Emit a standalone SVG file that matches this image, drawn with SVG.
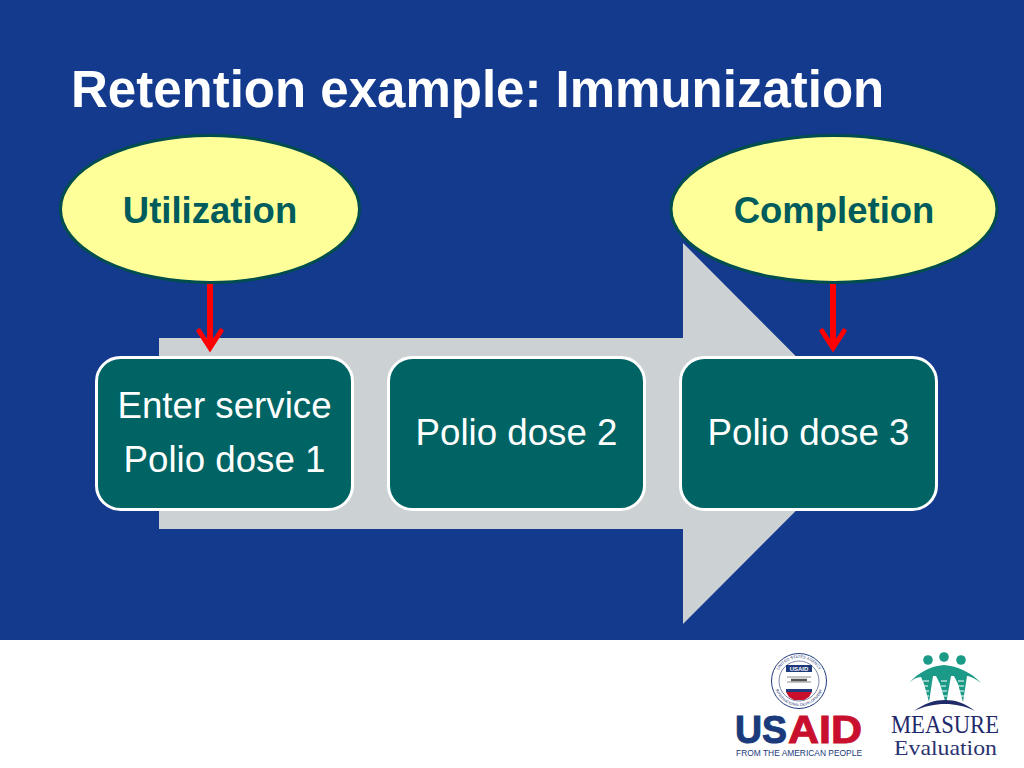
<svg xmlns="http://www.w3.org/2000/svg" width="1024" height="768" viewBox="0 0 1024 768">
<style>
.sans{font-family:"Liberation Sans",Arial,sans-serif}
.serif{font-family:"Liberation Serif","Times New Roman",serif}
.oval{fill:#ffff99;stroke:#004d4d;stroke-width:3}
.ovalt{font-size:36.500px;font-weight:bold;fill:#005c5c;text-anchor:middle}
.box{fill:#006464;stroke:#fff;stroke-width:3}
.boxt{font-size:36.700px;fill:#fff;text-anchor:middle}
.link{stroke:#f00;stroke-width:6;fill:none}
.head{stroke:#f00;stroke-width:5;fill:none;stroke-linecap:round}
.teal{fill:#1b9a87}
.navy{fill:#1f2a6b}
.rib{stroke:#fff;stroke-width:1.200;fill:none}
</style>
<defs>
<path id="seal-top" d="M776,681A23,23 0 0 1 822,681"/>
<path id="seal-bottom" d="M774,681A25,25 0 0 0 824,681"/>
</defs>
<rect id="background" width="1024" height="640" fill="#143a8e"/>
<rect id="footer" y="640" width="1024" height="128" fill="#fff"/>
<text id="title" class="sans" x="71" y="107" font-size="51" font-weight="bold" fill="#fff">Retention example: Immunization</text>
<polygon id="process-arrow" points="159,338 683,338 683,243 873,433.500 683,624 683,529 159,529" fill="#ccd2d4"/>
<g id="connectors">
<path class="link" d="M210,284V346"/>
<path class="head" d="M199,331L210,348L221,331"/>
<path class="link" d="M833,284V346"/>
<path class="head" d="M822,331L833,348L844,331"/>
</g>
<g id="utilization"><ellipse class="oval" cx="210" cy="209" rx="149.500" ry="73.500"/><text class="sans ovalt" x="210" y="223">Utilization</text></g>
<g id="completion"><ellipse class="oval" cx="834" cy="209" rx="163" ry="73.500"/><text class="sans ovalt" x="834" y="223">Completion</text></g>
<g id="dose1"><rect class="box" x="96.500" y="357.500" width="256" height="152" rx="24"/><text class="sans boxt" x="224.500" y="418">Enter service</text><text class="sans boxt" x="224.500" y="472">Polio dose 1</text></g>
<g id="dose2"><rect class="box" x="388.500" y="357.500" width="256" height="152" rx="24"/><text class="sans boxt" x="516.500" y="445">Polio dose 2</text></g>
<g id="dose3"><rect class="box" x="680.500" y="357.500" width="256" height="152" rx="24"/><text class="sans boxt" x="808.500" y="445">Polio dose 3</text></g>
<g id="usaid-logo">
<circle cx="799" cy="681" r="27.500" fill="#fff" stroke="#1f3a7a" stroke-width="1"/>
<circle cx="799" cy="681" r="20" fill="#fff" stroke="#5a6a96" stroke-width="0.800"/>
<text class="sans" font-size="4" fill="#1f3a7a" text-anchor="middle"><textPath href="#seal-top" startOffset="50%">UNITED STATES AGENCY</textPath></text>
<text class="sans" font-size="3.800" fill="#1f3a7a" text-anchor="middle"><textPath href="#seal-bottom" startOffset="50%">INTERNATIONAL DEVELOPMENT</textPath></text>
<rect x="786" y="665" width="26" height="7" fill="#1f3a7a"/>
<text class="sans" x="799" y="671" font-size="6" font-weight="bold" fill="#fff" text-anchor="middle">USAID</text>
<path d="M787,677H811M787,682H811" stroke="#888" stroke-width="1"/>
<path d="M791,680H807" stroke="#555" stroke-width="2.500"/>
<rect x="786" y="689" width="26" height="3" fill="#1f3a7a"/>
<path d="M786,692H812L809,697L804,700H794L789,697Z" fill="#c8102e"/>
<text class="sans" x="735" y="743" font-size="38" font-weight="bold" fill="#1a3a7c" stroke="#1a3a7c" stroke-width="1" textLength="52" lengthAdjust="spacingAndGlyphs">US</text>
<text class="sans" x="788" y="743" font-size="38" font-weight="bold" fill="#c8102e" stroke="#c8102e" stroke-width="1" textLength="74" lengthAdjust="spacingAndGlyphs">AID</text>
<text class="sans" x="736" y="756" font-size="9.500" fill="#1a3a7c" textLength="126" lengthAdjust="spacingAndGlyphs">FROM THE AMERICAN PEOPLE</text>
</g>
<g id="measure-logo">
<circle class="teal" cx="928" cy="660" r="4.800"/><circle class="teal" cx="944" cy="657" r="4.800"/><circle class="teal" cx="961" cy="660" r="4.800"/>
<path class="teal" d="M909,683C918,673 930,666 944,665C958,666 972,673 981,683C974,678 970,676 967,676L963,702L958,684L954,676H951L946,704L940,684L936,676H933L929,702L924,684L921,677C917,677 913,679 909,683Z"/>
<path class="rib" d="M923,681H929M923,686H928M925,691H929M925,696H929M941,681H947M941,686H946M942,691H947M943,696H947M958,681H964M958,686H964M959,691H964M960,696H964"/>
<path class="navy" d="M914,711C925,703 935,700 945,700C955,700 965,703 975,711C965,706 955,704 945,704C935,704 925,706 914,711Z"/>
<text class="serif navy" x="891" y="733" font-size="26" textLength="108" lengthAdjust="spacingAndGlyphs">MEASURE</text>
<text class="serif" x="894" y="755" font-size="22" fill="#2a3270" textLength="103" lengthAdjust="spacingAndGlyphs">Evaluation</text>
</g>
</svg>
